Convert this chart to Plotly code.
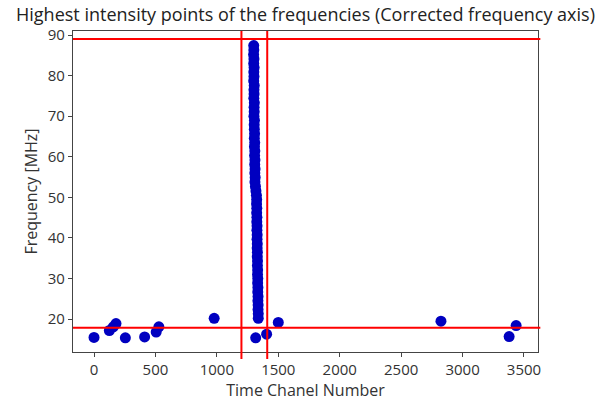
import plotly.graph_objects as go

# Scattered peak points (time channel, frequency in MHz)
scatter_channels = [0, 125, 157, 179, 255, 412, 506, 528, 978, 1316, 1405, 1500, 2824, 3379, 3436]
scatter_freqs = [15.5, 17.2, 18.1, 18.9, 15.4, 15.6, 16.8, 18.1, 20.2, 15.4, 16.3, 19.2, 19.5, 15.7, 18.4]

# Dense drifting burst track (time channel, frequency in MHz)
burst_channels = [1300, 1301, 1299, 1302, 1300, 1303, 1301, 1302, 1300, 1304, 1302, 1303,
                  1301, 1305, 1303, 1304, 1302, 1306, 1304, 1305, 1307, 1305, 1308, 1306,
                  1309, 1307, 1310, 1308, 1311, 1309, 1312, 1310, 1314, 1318, 1322, 1324,
                  1323, 1325, 1324, 1326, 1325, 1327, 1326, 1328, 1327, 1329, 1328, 1330,
                  1329, 1331, 1330, 1332, 1331, 1333, 1332, 1334, 1333, 1335, 1334, 1336,
                  1335, 1337, 1337]
burst_freqs = [87.4, 86.3, 85.2, 84.1, 83.0, 82.0, 80.9, 79.8, 78.7, 77.6, 76.5, 75.5,
               74.4, 73.3, 72.2, 71.1, 70.0, 69.0, 67.9, 66.8, 65.7, 64.6, 63.5, 62.5,
               61.4, 60.3, 59.2, 58.1, 57.0, 56.0, 54.9, 53.8, 52.7, 51.6, 50.5, 49.5,
               48.4, 47.3, 46.2, 45.1, 44.0, 43.0, 41.9, 40.8, 39.7, 38.6, 37.5, 36.5,
               35.4, 34.3, 33.2, 32.1, 31.0, 30.0, 28.9, 27.8, 26.7, 25.6, 24.5, 23.5,
               22.4, 21.3, 20.2]

# Frequency band limits and time window limits
band_freqs = [17.9, 89.0]
window_channels = [1200, 1410]

x_ticks = [0, 500, 1000, 1500, 2000, 2500, 3000, 3500]
y_ticks = [20, 30, 40, 50, 60, 70, 80, 90]

marker_color = "#0000c0"
line_color = "#ff0000"
axis_color = "#444444"
font_family = "Open Sans, DejaVu Sans, sans-serif"

fig = go.Figure()

fig.add_trace(go.Scatter(
    x=scatter_channels + burst_channels,
    y=scatter_freqs + burst_freqs,
    mode="markers",
    marker=dict(color=marker_color, size=11, line=dict(width=0)),
    showlegend=False,
    hoverinfo="skip",
))

for f in band_freqs:
    fig.add_shape(type="line", xref="paper", yref="y", x0=0, x1=1.005, y0=f, y1=f,
                  line=dict(color=line_color, width=2), layer="above")
for c in window_channels:
    fig.add_shape(type="line", xref="x", yref="paper", x0=c, x1=c, y0=-0.022, y1=1.0,
                  line=dict(color=line_color, width=2), layer="above")

fig.update_layout(
    width=610, height=406,
    margin=dict(l=73, r=72, t=31, b=54),
    paper_bgcolor="white", plot_bgcolor="white",
    font=dict(family=font_family, color="#333333", size=15),
    title=dict(
        text="Highest intensity points of the frequencies (Corrected frequency axis)",
        x=0.5, xref="paper", xanchor="center",
        y=0.965, yref="container", yanchor="middle",
        font=dict(size=18, color="#222222", family=font_family),
    ),
    xaxis=dict(
        range=[-171, 3614], tickvals=x_ticks, ticktext=[str(v) for v in x_ticks],
        showgrid=False, zeroline=False, showline=True, mirror=True,
        linecolor=axis_color, linewidth=1.3,
        ticks="outside", ticklen=4, tickcolor=axis_color, tickwidth=1,
        tickfont=dict(size=15, color="#333333"),
        title=dict(text="Time Chanel Number", font=dict(size=16, color="#333333"), standoff=4),
    ),
    yaxis=dict(
        range=[11.9, 91.0], tickvals=y_ticks, ticktext=[str(v) for v in y_ticks],
        showgrid=False, zeroline=False, showline=True, mirror=True,
        linecolor=axis_color, linewidth=1.3,
        ticks="outside", ticklen=4, tickcolor=axis_color, tickwidth=1,
        tickfont=dict(size=15, color="#333333"),
        title=dict(text="Frequency [MHz]", font=dict(size=16, color="#333333"), standoff=6),
    ),
)

fig.write_html("out.html")
